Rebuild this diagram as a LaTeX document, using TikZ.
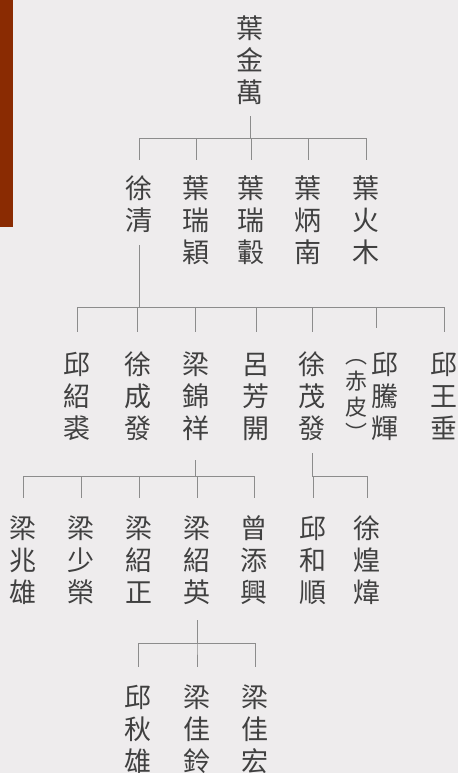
\documentclass[tikz,border=0pt]{standalone}
\usepackage{fontspec}
\newfontfamily\cjk{Noto Sans CJK TC}
\definecolor{bg}{HTML}{EEECED}
\definecolor{bar}{HTML}{8A2B02}
\definecolor{txt}{HTML}{404040}
\definecolor{ln}{HTML}{8C8C8C}
\newcommand\zi[1]{\rule[-2.7pt]{0pt}{25.65pt}#1}
\newcommand\zs[1]{\rule[-2.2pt]{0pt}{20.9pt}#1}
\tikzset{
  nm/.style={inner sep=0pt, align=center, text=txt, font=\cjk\fontsize{27}{32}\selectfont},
  note/.style={inner sep=0pt, align=center, text=txt, font=\cjk\fontsize{22}{26}\selectfont},
  conn/.style={draw=ln, line width=1pt},
}
\newcommand\fork[5]{\draw[conn, shorten <=#3, shorten >=#4] (#1.south) -- (#1.south |- #5) -| (#2);}
\begin{document}
\begin{tikzpicture}[x=1pt, y=-1pt]
\fill[bg] (0,0) rectangle (458,773);
\useasboundingbox (0,0) rectangle (458,773);
\fill[bar] (0,0) rectangle (13,227);
\coordinate (y1) at (0,138);
\coordinate (y2) at (0,307);
\coordinate (y3) at (0,476);
\coordinate (y4) at (0,643);
% level 1
\node[nm] (a) at (250,60) {\zi{葉}\\\zi{金}\\\zi{萬}};
% level 2
\node[nm] (b1) at (139,204) {\zi{徐}\\\zi{清}};
\node[nm] (b2) at (196,220) {\zi{葉}\\\zi{瑞}\\\zi{穎}};
\node[nm] (b3) at (251,220) {\zi{葉}\\\zi{瑞}\\\zi{轂}};
\node[nm] (b4) at (308,220) {\zi{葉}\\\zi{炳}\\\zi{南}};
\node[nm] (b5) at (366,220) {\zi{葉}\\\zi{火}\\\zi{木}};
% level 3
\node[nm] (c1) at (77,396) {\zi{邱}\\\zi{紹}\\\zi{裘}};
\node[nm] (c2) at (137.5,396) {\zi{徐}\\\zi{成}\\\zi{發}};
\node[nm] (c3) at (195.5,396) {\zi{梁}\\\zi{錦}\\\zi{祥}};
\node[nm] (c4) at (256,396) {\zi{呂}\\\zi{芳}\\\zi{開}};
\node[nm] (c5) at (312,396) {\zi{徐}\\\zi{茂}\\\zi{發}};
\node[nm] (c6) at (385,396) {\zi{邱}\\\zi{騰}\\\zi{輝}};
\node[note] (c6n) at (356,394) {\zs{︵}\\\zs{赤}\\\zs{皮}\\\zs{︶}};
\node[nm] (c7) at (444,396) {\zi{邱}\\\zi{王}\\\zi{垂}};
% level 4
\node[nm] (d1) at (23,560) {\zi{梁}\\\zi{兆}\\\zi{雄}};
\node[nm] (d2) at (81,560) {\zi{梁}\\\zi{少}\\\zi{榮}};
\node[nm] (d3) at (139,560) {\zi{梁}\\\zi{紹}\\\zi{正}};
\node[nm] (d4) at (197,560) {\zi{梁}\\\zi{紹}\\\zi{英}};
\node[nm] (d5) at (254,560) {\zi{曾}\\\zi{添}\\\zi{興}};
\node[nm] (d6) at (313,560) {\zi{邱}\\\zi{和}\\\zi{順}};
\node[nm] (d7) at (367,560) {\zi{徐}\\\zi{煌}\\\zi{煒}};
% level 5
\node[nm] (e1) at (138,729) {\zi{邱}\\\zi{秋}\\\zi{雄}};
\node[nm] (e2) at (197,729) {\zi{梁}\\\zi{佳}\\\zi{鈴}};
\node[nm] (e3) at (255,729) {\zi{梁}\\\zi{佳}\\\zi{宏}};
% connectors
\foreach \c in {b1,b2,b3,b4,b5} {\fork{a}{\c.north}{11pt}{15pt}{y1}}
\foreach \c in {c1,c2,c3,c4,c5,c7} {\fork{b1}{\c.north}{12pt}{19pt}{y2}}
\fork{b1}{[xshift=-9pt]c6.north}{12pt}{23pt}{y2}
\foreach \c in {d1,d2,d3,d4,d5} {\fork{c3}{\c.north}{19pt}{17pt}{y3}}
\foreach \c in {d6,d7} {\fork{c5}{\c.north}{12pt}{17pt}{y3}}
\foreach \c in {e1,e2,e3} {\fork{d4}{\c.north}{15pt}{17pt}{y4}}
\end{tikzpicture}
\end{document}
